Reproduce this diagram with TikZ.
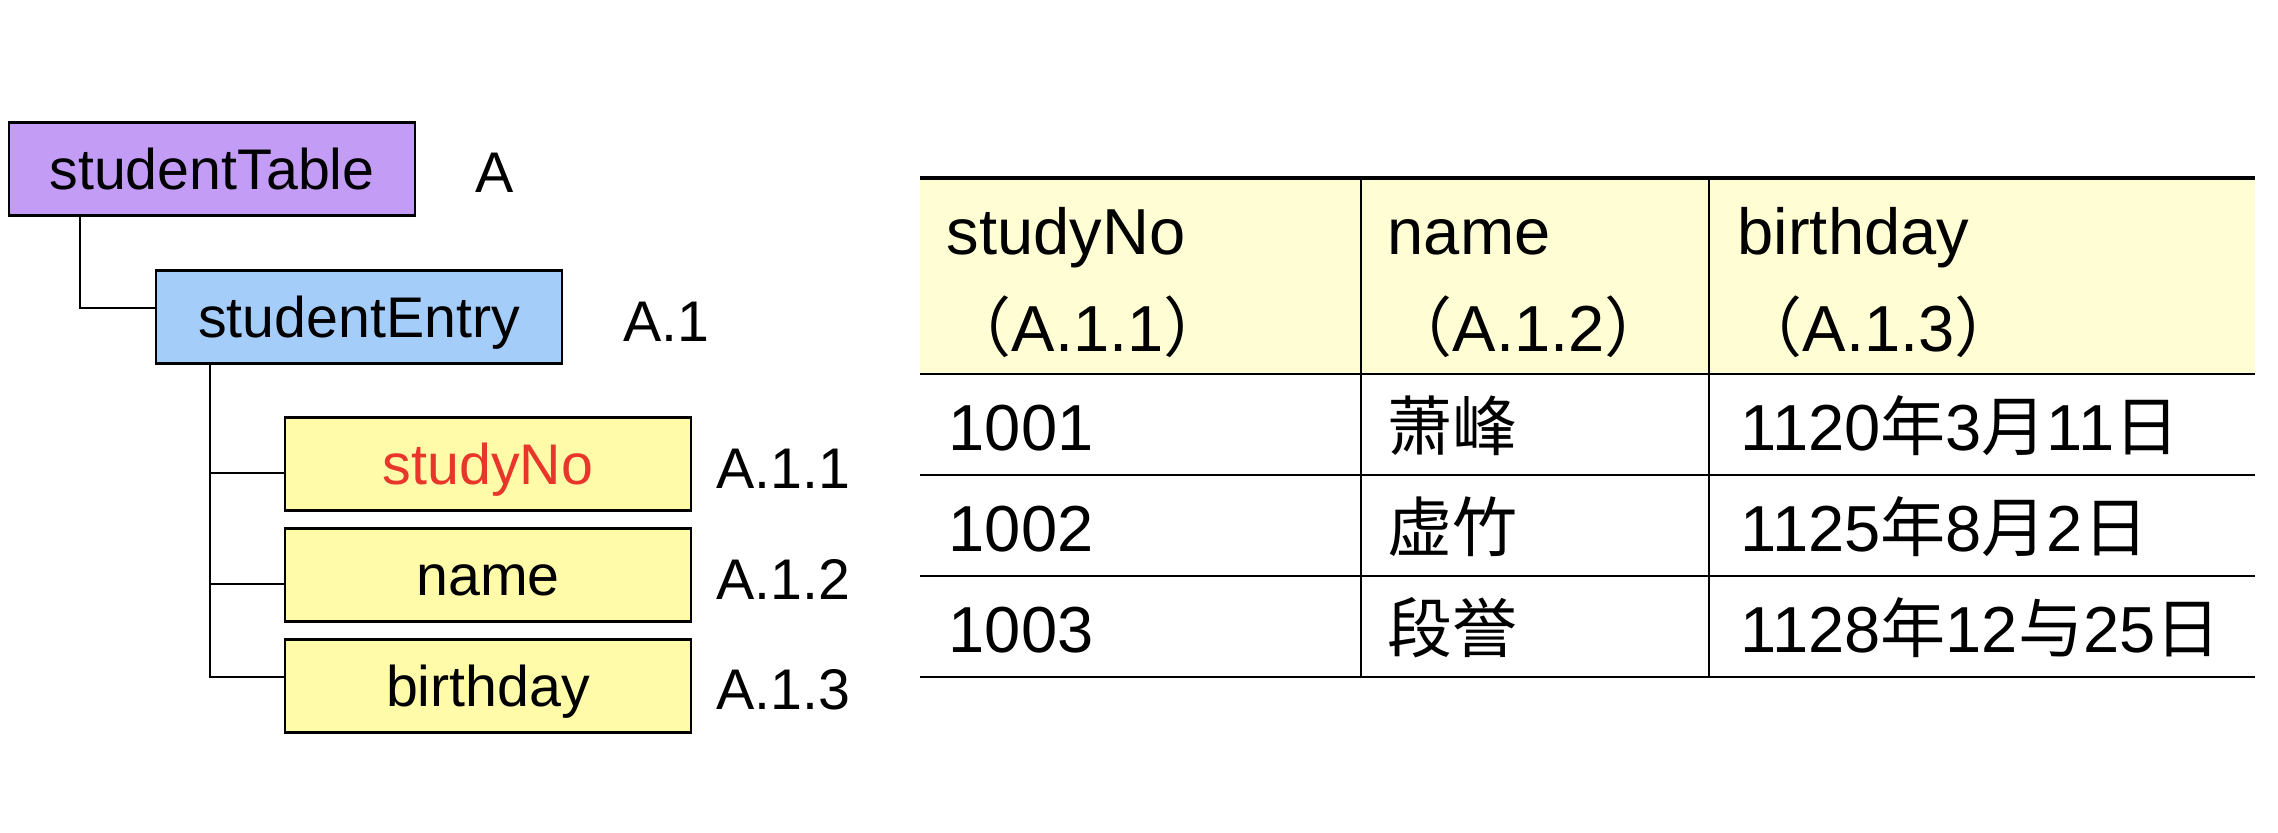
\documentclass[tikz,border=0pt]{standalone}
\usepackage{fontspec}
\setmainfont{Liberation Sans}
\newfontfamily\cjk{Noto Sans CJK SC}
\definecolor{lila}{HTML}{C39DF5}
\definecolor{bleu}{HTML}{A5CDF9}
\definecolor{jaune}{HTML}{FFFBA8}
\definecolor{entete}{HTML}{FFFDD4}
\definecolor{rouge}{HTML}{E8362A}
\begin{document}
\begin{tikzpicture}[x=0.01cm,y=-0.01cm,
  boite/.style={draw,line width=0.6pt,inner sep=0pt,
    minimum width=4.06cm,minimum height=0.93cm,
    text height=0.41cm,text depth=0pt,
    font=\fontsize{16.3}{20}\selectfont},
  etiq/.style={anchor=base west,inner sep=0pt,
    font=\fontsize{16.3}{20}\selectfont},
  cellule/.style={anchor=base west,inner sep=0pt,
    font=\fontsize{18.5}{22}\selectfont},
  trait/.style={line width=0.6pt}]

\useasboundingbox (0,0) rectangle (2278,832);

% Arbre
\node[boite,fill=lila] (tbl) at (212,169) {studentTable};
\node[etiq] (la) at (475,192) {A};

\node[boite,fill=bleu] (entry) at (359,317) {studentEntry};
\node[etiq] (la1) at (623,341) {A.1};

\node[boite,fill=jaune,text=rouge] (sno) at (488,464) {studyNo};
\node[etiq] (la11) at (716,488) {A.1.1};

\node[boite,fill=jaune] (nm) at (488,575) {name};
\node[etiq] (la12) at (716,599) {A.1.2};

\node[boite,fill=jaune] (bd) at (488,686) {birthday};
\node[etiq] (la13) at (716,709) {A.1.3};

\draw[trait]
(tbl.south west) ++(72,0)
|-
([yshift=0.09cm]entry.west);

\draw[trait]
(entry.south west) ++(55,0)
|-
([yshift=0.09cm]bd.west);

\draw[trait]
(entry.south west) ++(55,0)
|-
([yshift=-0.09cm]sno.west);

\draw[trait]
(entry.south west) ++(55,0)
|-
([yshift=-0.09cm]nm.west);

% Tableau
\fill[entete]
(920,178)
rectangle
(2255,374);

\draw[line width=0.9pt]
(920,178)
--
(2255,178);

\foreach \y in {374,475,576,677}
  \draw[trait] (920,\y) -- (2255,\y);

\foreach \x in {1361,1709}
  \draw[trait] (\x,178) -- (\x,677);

% En-tete
\node[cellule] (h1) at (946,254) {studyNo};
\node[cellule] (h1b) at (946,351) {{\cjk （}A.1.1{\cjk ）}};
\node[cellule] (h2) at (1387,254) {name};
\node[cellule] (h2b) at (1387,351) {{\cjk （}A.1.2{\cjk ）}};
\node[cellule] (h3) at (1737,254) {birthday};
\node[cellule] (h3b) at (1737,351) {{\cjk （}A.1.3{\cjk ）}};

% Lignes
\node[cellule] (n1) at (948,450) {1001};
\node[cellule] (n2) at (948,551) {1002};
\node[cellule] (n3) at (948,652) {1003};

\node[cellule] (p1) at (1387,450) {\cjk 萧峰};
\node[cellule] (p2) at (1387,551) {\cjk 虚竹};
\node[cellule] (p3) at (1387,652) {\cjk 段誉};

\node[cellule] (d1) at (1740,450) {1120{\cjk 年}3{\cjk 月}11{\cjk 日}};
\node[cellule] (d2) at (1740,551) {1125{\cjk 年}8{\cjk 月}2{\cjk 日}};
\node[cellule] (d3) at (1740,652) {1128{\cjk 年}12{\cjk 与}25{\cjk 日}};

\end{tikzpicture}
\end{document}
